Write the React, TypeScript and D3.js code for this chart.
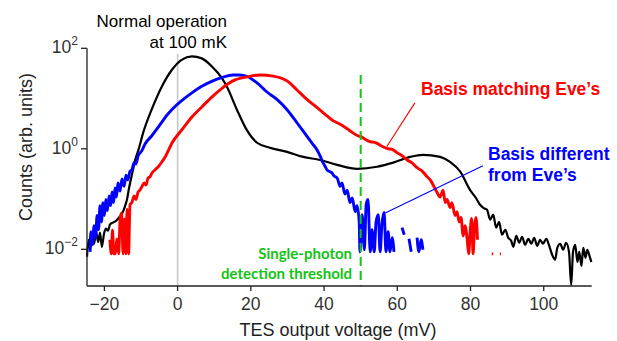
import React from "react";
import * as d3 from "d3";

type Pt = [number, number]; // [TES output voltage (mV), counts (arb. units)]; 0 = empty bin

const normalOperation: Pt[] = [
  [-24.75, 0.0071], [-24.3, 0.0155], [-23.9, 0.0098], [-23.4, 0.0195], [-22.8, 0.0129],
  [-22.3, 0.0224], [-21.7, 0.014], [-21.2, 0.0214], [-20.7, 0.0112], [-20.1, 0.0204],
  [-19.6, 0.0257], [-19.0, 0.0234], [-18.5, 0.031], [-17.7, 0.034], [-16.8, 0.037],
  [-16.0, 0.043], [-15.2, 0.051], [-14.4, 0.071], [-13.8, 0.1], [-13.3, 0.16],
  [-12.7, 0.26], [-12.2, 0.38], [-11.6, 0.6], [-10.7, 0.95], [-9.4, 2.1],
  [-7.1, 6.0], [-4.3, 17.4], [-1.6, 37], [1.1, 59], [3.9, 69],
  [6.6, 63], [9.3, 44], [12.0, 26], [13.5, 17], [16.2, 6.0],
  [19.0, 2.3], [21.7, 1.32], [25.2, 1.05], [29.9, 0.87], [34.3, 0.69],
  [38.9, 0.6], [43.6, 0.48], [49.0, 0.4], [54.5, 0.44], [58.9, 0.53],
  [63.5, 0.69], [67.0, 0.76], [71.7, 0.69], [74.4, 0.55], [77.2, 0.35],
  [79.9, 0.15], [81.5, 0.105], [82.6, 0.077], [83.6, 0.066], [84.5, 0.061],
  [85.4, 0.039], [86.2, 0.049], [87.0, 0.027], [87.8, 0.035], [88.6, 0.0195],
  [89.5, 0.0245], [90.3, 0.017], [91.1, 0.0148], [91.7, 0.0112], [92.5, 0.0186],
  [93.3, 0.0135], [94.1, 0.0178], [94.9, 0.0123], [95.8, 0.0162], [96.6, 0.0129],
  [97.4, 0.017], [98.2, 0.0117], [99.0, 0.0155], [99.8, 0.0129], [100.7, 0.0162],
  [101.5, 0.0117], [102.3, 0.0078], [103.1, 0.0062], [103.7, 0.0107], [104.5, 0.0129],
  [105.3, 0.0098], [106.1, 0.0135], [106.9, 0.0089], [107.5, 0.00195], [108.0, 0.0089],
  [108.6, 0.0123], [109.2, 0.0056], [109.7, 0.0089], [110.3, 0.0047], [110.8, 0.0107],
  [111.4, 0.0068], [111.9, 0.0098], [112.5, 0.0074], [113.0, 0.0056],
];

const basisDifferent: Pt[] = [
  [-23.9, 0.0089], [-23.7, 0.0224], [-23.3, 0.0123], [-22.8, 0.0295], [-22.4, 0.017],
  [-22.0, 0.047], [-21.6, 0.0245], [-21.2, 0.074], [-20.8, 0.035], [-20.4, 0.085],
  [-20.0, 0.047], [-19.6, 0.098], [-19.2, 0.059], [-18.7, 0.115], [-18.3, 0.074],
  [-17.9, 0.138], [-17.5, 0.085], [-17.1, 0.166], [-16.7, 0.11], [-16.3, 0.21],
  [-15.7, 0.145], [-15.2, 0.25], [-14.6, 0.18], [-14.1, 0.3], [-13.6, 0.24],
  [-13.0, 0.36], [-12.5, 0.38], [-11.9, 0.53], [-11.4, 0.5], [-10.8, 0.72],
  [-9.8, 0.91], [-8.9, 1.25], [-7.1, 1.8], [-5.8, 2.4], [-4.3, 3.4],
  [-3.0, 4.6], [-1.6, 6.0], [1.1, 9.1], [3.9, 13], [6.6, 17.5],
  [9.3, 22], [12.0, 26], [15.1, 29.5], [17.0, 29.5], [19.0, 27.5],
  [21.7, 20.5], [24.4, 13.5], [27.2, 9.5], [29.9, 6.0], [32.6, 3.3],
  [35.4, 1.74], [36.7, 1.3], [38.1, 0.95], [39.0, 0.7], [39.7, 0.53],
  [40.2, 0.46], [40.8, 0.38], [41.6, 0.35], [42.2, 0.33], [42.7, 0.29],
  [43.6, 0.26], [44.4, 0.18], [44.9, 0.21], [45.7, 0.126], [46.3, 0.15],
  [47.1, 0.085], [47.7, 0.105], [48.5, 0.056], [49.0, 0.074], [49.6, 0.035],
  [49.8, 0.0089], [50.4, 0.049], [51.0, 0.0098], [51.5, 0.077], [52.0, 0.098],
  [52.6, 0.0089], [53.1, 0.0245], [53.7, 0.0089], [54.2, 0.035], [54.8, 0.049],
  [55.3, 0.0089], [55.8, 0.031], [56.4, 0.054], [56.9, 0.0089], [57.5, 0.0224],
  [58.0, 0.0089], [58.6, 0.017], [59.1, 0.0089], [59.7, 0], [61.0, 0],
  [61.3, 0.027], [61.9, 0.0195], [62.4, 0], [62.9, 0], [63.2, 0.0162],
  [63.8, 0.0089], [64.3, 0], [65.0, 0], [65.4, 0.017], [65.9, 0.0089],
  [66.5, 0.0155], [67.0, 0.0098], [67.6, 0],
];

const basisMatching: Pt[] = [
  [-18.5, 0.0155], [-18.1, 0.0081], [-17.8, 0.024], [-17.4, 0.0081], [-17.0, 0.0081],
  [-16.6, 0.016], [-16.1, 0.0081], [-15.7, 0.04], [-15.3, 0.053], [-14.9, 0.0081],
  [-14.5, 0.04], [-14.1, 0.0081], [-13.8, 0.063], [-13.4, 0.0081], [-13.0, 0.077],
  [-12.5, 0.085], [-11.9, 0.115], [-11.4, 0.098], [-10.8, 0.138], [-10.3, 0.15],
  [-9.7, 0.18], [-9.1, 0.21], [-8.6, 0.19], [-8.1, 0.26], [-7.5, 0.28],
  [-7.0, 0.33], [-6.2, 0.38], [-5.3, 0.44], [-4.3, 0.55], [-3.4, 0.69],
  [-1.5, 1.32], [1.2, 2.4], [3.9, 4.3], [6.7, 6.9], [9.4, 10.8],
  [12.1, 16], [15.1, 22.5], [19.0, 27], [22.5, 29.5], [26.1, 28],
  [29.9, 22.5], [32.6, 14.8], [35.4, 9.5], [38.1, 6.6], [40.8, 4.5],
  [42.5, 3.6], [43.6, 3.3], [45.0, 2.9], [46.3, 2.5], [47.8, 2.1],
  [49.3, 1.8], [50.1, 1.75], [50.9, 1.6], [52.6, 1.38], [53.5, 1.36],
  [54.4, 1.3], [55.3, 1.18], [56.1, 1.1], [57.6, 1.0], [58.5, 0.98],
  [60.0, 0.83], [61.4, 0.72], [62.7, 0.6], [64.1, 0.52], [65.4, 0.42],
  [66.8, 0.36], [68.1, 0.28], [69.0, 0.24], [69.8, 0.19], [70.8, 0.138],
  [71.7, 0.11], [72.5, 0.15], [73.1, 0.085], [73.6, 0.098], [74.4, 0.068],
  [74.9, 0.085], [75.8, 0.047], [76.3, 0.056], [76.9, 0.035], [77.4, 0.043],
  [78.0, 0.0186], [78.5, 0.0295], [79.1, 0.0155], [79.5, 0.0081], [79.9, 0.0224],
  [80.3, 0.041], [80.7, 0.0081], [81.1, 0.028], [81.5, 0.043], [81.9, 0.0155],
  [82.2, 0], [85.7, 0], [85.8, 0.0081], [86.2, 0.0081], [86.3, 0],
  [87.9, 0], [88.0, 0.0081], [88.3, 0.0081], [88.4, 0],
];

const xTicks = [-20, 0, 20, 40, 60, 80, 100];
const yTicks = [1e-2, 1, 1e2];
const yTickExponents = ["\u22122", "0", "2"];

const thresholdVoltage = 50;

const FONT = "'Liberation Sans', Arial, Helvetica, sans-serif";
const LABEL_FONT = "Lato, 'Open Sans', sans-serif";
const GREEN = "#13c413";

export default function App() {
  const x = d3.scaleLinear().domain([-24.75, 113.1]).range([87, 591.7]);
  const y = d3.scaleLog().domain([Math.pow(10, -2.73), 100]).range([286, 48.3]);

  const line = d3
    .line<Pt>()
    .defined((d) => d[1] > 0)
    .x((d) => x(d[0]))
    .y((d) => y(d[1]))
    .curve(d3.curveMonotoneX);

  const [x0, x1] = x.range();
  const [yBottom, yTop] = y.range();

  return (
    <svg
      width={617}
      height={341}
      viewBox="0 0 617 341"
      style={{ position: "absolute", left: 0, top: 0, background: "#fff" }}
      fontFamily={FONT}
    >
      {/* zero-voltage guide */}
      <line x1={x(0)} x2={x(0)} y1={54} y2={yBottom} stroke="#c8c8c8" strokeWidth={1.6} />

      {/* histograms */}
      <path d={line(normalOperation) ?? ""} fill="none" stroke="#000" strokeWidth={2.2} strokeLinejoin="round" />
      <path d={line(basisDifferent) ?? ""} fill="none" stroke="#0000ff" strokeWidth={2.9} strokeLinejoin="round" />
      <path d={line(basisMatching) ?? ""} fill="none" stroke="#ff0000" strokeWidth={2.9} strokeLinejoin="round" />

      {/* detection threshold */}
      <line
        x1={x(thresholdVoltage)}
        x2={x(thresholdVoltage)}
        y1={75}
        y2={yBottom}
        stroke={GREEN}
        strokeWidth={2}
        strokeDasharray="9,5"
      />

      {/* axes */}
      <line x1={x0} x2={x1} y1={yBottom} y2={yBottom} stroke="#222" strokeWidth={1.3} />
      <line x1={x0} x2={x0} y1={yBottom} y2={yTop} stroke="#222" strokeWidth={1.3} />
      {xTicks.map((t) => (
        <g key={t}>
          <line x1={x(t)} x2={x(t)} y1={yBottom} y2={yBottom + 5} stroke="#222" strokeWidth={1.3} />
          <text x={x(t)} y={310} textAnchor="middle" fontSize={17.5} fill="#333">
            {t < 0 ? `\u2212${Math.abs(t)}` : t}
          </text>
        </g>
      ))}
      {yTicks.map((t, i) => (
        <g key={t}>
          <line x1={x0 - 6} x2={x0} y1={y(t)} y2={y(t)} stroke="#222" strokeWidth={1.3} />
          <text x={x0 - 9} y={y(t) + 5} textAnchor="end" fontSize={17.5} fill="#333">
            10
            <tspan fontSize={12} dy={-8}>
              {yTickExponents[i]}
            </tspan>
          </text>
        </g>
      ))}

      {/* axis titles */}
      <text x={338} y={336} textAnchor="middle" fontSize={18} fill="#222">
        TES output voltage (mV)
      </text>
      <text
        transform="translate(32,147) rotate(-90)"
        textAnchor="middle"
        fontSize={18}
        fill="#222"
      >
        Counts (arb. units)
      </text>

      {/* curve labels */}
      <text x={227} y={27} textAnchor="end" fontSize={17} fill="#000">
        Normal operation
      </text>
      <text x={227} y={47.5} textAnchor="end" fontSize={17} fill="#000">
        at 100 mK
      </text>

      <text x={421} y={95} fontSize={17.5} fontWeight="bold" fill="#ff0000">
        Basis matching Eve’s
      </text>
      <line x1={x(64.8)} y1={y(8.2)} x2={x(57.1)} y2={y(1.1)} stroke="#ff0000" strokeWidth={1.1} />

      <text x={488} y={160} fontSize={17.5} fontWeight="bold" fill="#0000ff">
        Basis different
      </text>
      <text x={488} y={181} fontSize={17.5} fontWeight="bold" fill="#0000ff">
        from Eve’s
      </text>
      <line x1={x(83.4)} y1={y(0.46)} x2={x(56.7)} y2={y(0.053)} stroke="#0000ff" strokeWidth={1.1} />

      <text x={352} y={259} textAnchor="end" fontSize={15} fontWeight="bold" fill={GREEN} fontFamily={LABEL_FONT}>
        Single-photon
      </text>
      <text x={352} y={279} textAnchor="end" fontSize={15} fontWeight="bold" fill={GREEN} fontFamily={LABEL_FONT}>
        detection threshold
      </text>
    </svg>
  );
}
